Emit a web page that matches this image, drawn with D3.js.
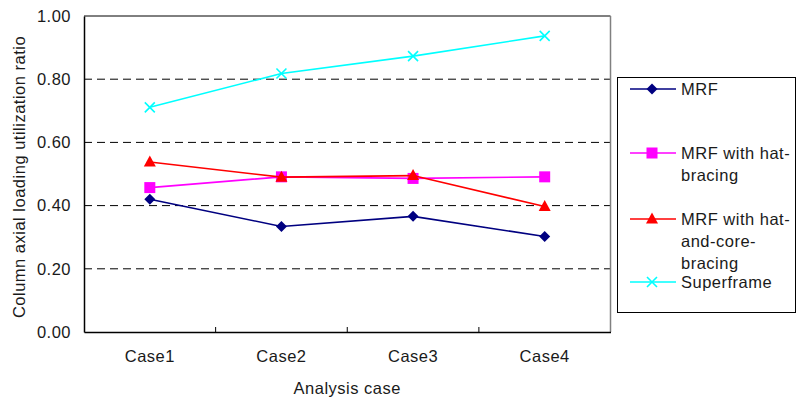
<!DOCTYPE html>
<html>
<head>
<meta charset="utf-8">
<script src="https://cdn.jsdelivr.net/npm/d3@7"></script>
<style>
  html, body { margin: 0; padding: 0; background: #fff; }
  svg { display: block; font-family: "Liberation Sans", Arial, sans-serif; }
  svg text { letter-spacing: 0.5px; }
</style>
</head>
<body>
<svg id="chart" width="796" height="403"></svg>
<script>
// Analysis cases along the x axis
const cases = ["Case1", "Case2", "Case3", "Case4"];
// Column axial loading utilization ratio per structural system
const mrf = [0.420, 0.334, 0.366, 0.302];
const mrfHat = [0.457, 0.491, 0.486, 0.491];
const mrfHatCore = [0.538, 0.490, 0.495, 0.397];
const superframe = [0.711, 0.818, 0.873, 0.937];
const seriesNames = ["MRF", "MRF with hat-bracing", "MRF with hat-and-core-bracing", "Superframe"];
const yTicks = [0, 0.2, 0.4, 0.6, 0.8, 1.0];

const series = [
  { name: seriesNames[0], values: mrf, color: "#000080", marker: "diamond",
    legendLines: ["MRF"] },
  { name: seriesNames[1], values: mrfHat, color: "#FF00FF", marker: "square",
    legendLines: ["MRF with hat-", "bracing"] },
  { name: seriesNames[2], values: mrfHatCore, color: "#FF0000", marker: "triangle",
    legendLines: ["MRF with hat-", "and-core-", "bracing"] },
  { name: seriesNames[3], values: superframe, color: "#00FFFF", marker: "cross",
    legendLines: ["Superframe"] }
];

const svg = d3.select("#chart");
const plot = { left: 84, top: 16, right: 610.5, bottom: 332 };
const fontSize = 16.5;
const textColor = "#1a1a1a";

const x = d3.scaleBand().domain(cases).range([plot.left, plot.right]);
const y = d3.scaleLinear().domain([0, 1]).range([plot.bottom, plot.top]);
const cx = c => x(c) + x.bandwidth() / 2;

// Dashed horizontal gridlines
svg.append("g").selectAll("line")
  .data(yTicks.filter(t => t > 0 && t < 1))
  .join("line")
  .attr("x1", plot.left).attr("x2", plot.right)
  .attr("y1", d => y(d)).attr("y2", d => y(d))
  .attr("stroke", "#000").attr("stroke-width", 1)
  .attr("stroke-dasharray", "8,5");

// Plot frame: top dark, right grey
svg.append("line")
  .attr("x1", plot.left).attr("x2", plot.right)
  .attr("y1", plot.top).attr("y2", plot.top)
  .attr("stroke", "#000").attr("stroke-width", 1);
svg.append("line")
  .attr("x1", plot.right).attr("x2", plot.right)
  .attr("y1", plot.top).attr("y2", plot.bottom)
  .attr("stroke", "#808080").attr("stroke-width", 1.5);

// Y axis
const yAxis = d3.axisLeft(y).tickValues(yTicks).tickFormat(d3.format(".2f"))
  .tickSize(0).tickPadding(13);
const gy = svg.append("g").attr("transform", `translate(${plot.left},0)`).call(yAxis);
gy.select(".domain").attr("stroke", "#000").attr("stroke-width", 1.5);
gy.selectAll("text").attr("font-size", fontSize).attr("fill", textColor)
  .attr("font-family", "Liberation Sans, Arial, sans-serif");

// X axis with inner ticks at category boundaries
const xAxis = d3.axisBottom(x).tickSize(0).tickPadding(18);
const gx = svg.append("g").attr("transform", `translate(0,${plot.bottom})`).call(xAxis);
gx.select(".domain").attr("stroke", "#000").attr("stroke-width", 1.5);
gx.selectAll("text").attr("font-size", fontSize).attr("fill", textColor)
  .attr("font-family", "Liberation Sans, Arial, sans-serif");
svg.append("g").selectAll("line")
  .data(cases.slice(1))
  .join("line")
  .attr("x1", d => x(d)).attr("x2", d => x(d))
  .attr("y1", plot.bottom).attr("y2", plot.bottom - 5)
  .attr("stroke", "#000").attr("stroke-width", 1);

// Axis titles
svg.append("text")
  .attr("x", (plot.left + plot.right) / 2).attr("y", 394)
  .attr("text-anchor", "middle").attr("font-size", fontSize).attr("fill", textColor)
  .text("Analysis case");
svg.append("text")
  .attr("transform", "translate(25,177) rotate(-90)")
  .attr("text-anchor", "middle").attr("font-size", fontSize).attr("fill", textColor)
  .text("Column axial loading utilization ratio");

// Marker drawing
function drawMarker(g, type, color) {
  if (type === "diamond") {
    g.append("path").attr("d", "M0,-5.5L5.5,0L0,5.5L-5.5,0Z").attr("fill", color);
  } else if (type === "square") {
    g.append("rect").attr("x", -5.5).attr("y", -5.5).attr("width", 11).attr("height", 11)
      .attr("fill", color);
  } else if (type === "triangle") {
    g.append("path").attr("d", "M0,-6.5L6,4.5L-6,4.5Z").attr("fill", color);
  } else {
    g.append("path").attr("d", "M-5,-5L5,5M-5,5L5,-5")
      .attr("stroke", color).attr("stroke-width", 1.6).attr("fill", "none");
  }
}

const line = d3.line().x((d, i) => cx(cases[i])).y(d => y(d));

series.forEach(s => {
  svg.append("path")
    .datum(s.values)
    .attr("d", line)
    .attr("fill", "none")
    .attr("stroke", s.color)
    .attr("stroke-width", 1.6);
  s.values.forEach((v, i) => {
    const g = svg.append("g").attr("transform", `translate(${cx(cases[i])},${y(v)})`);
    drawMarker(g, s.marker, s.color);
  });
});

// Legend
const legend = svg.append("g");
legend.append("rect")
  .attr("x", 617.5).attr("y", 77.5).attr("width", 178).attr("height", 235)
  .attr("fill", "#fff").attr("stroke", "#000").attr("stroke-width", 1);

const legendRows = [89, 153, 219, 282];
series.forEach((s, i) => {
  const ly = legendRows[i];
  legend.append("line")
    .attr("x1", 630).attr("x2", 676).attr("y1", ly).attr("y2", ly)
    .attr("stroke", s.color).attr("stroke-width", 1.6);
  const g = legend.append("g").attr("transform", `translate(652,${ly})`);
  drawMarker(g, s.marker, s.color);
  const t = legend.append("text")
    .attr("x", 681).attr("y", ly + 6)
    .attr("font-size", fontSize).attr("fill", textColor);
  s.legendLines.forEach((txt, k) => {
    t.append("tspan").attr("x", 681).attr("dy", k === 0 ? 0 : 22).text(txt);
  });
});
</script>
</body>
</html>
